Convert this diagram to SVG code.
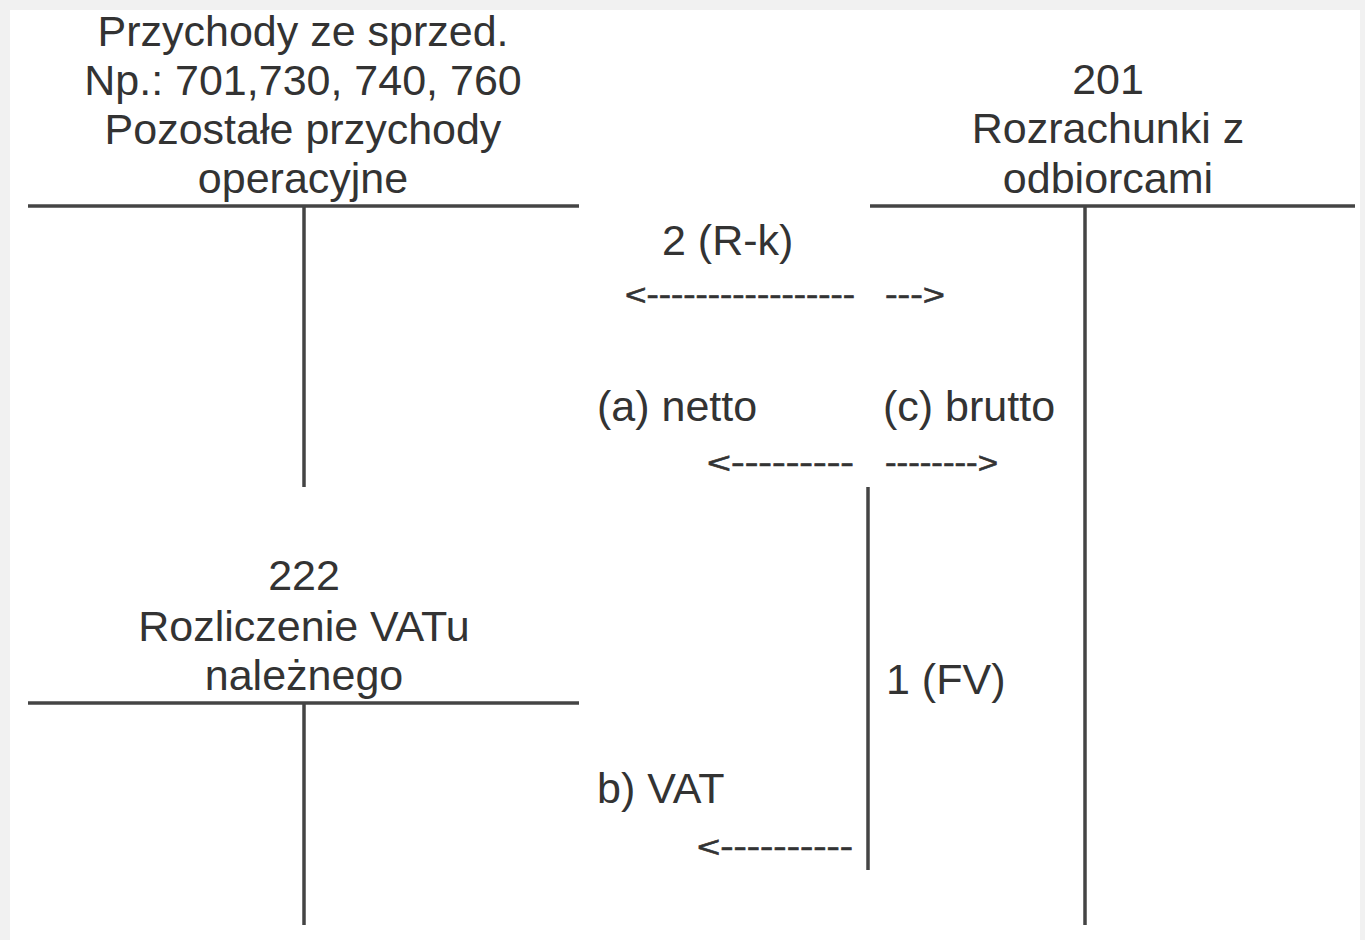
<svg xmlns="http://www.w3.org/2000/svg" width="1365" height="940" viewBox="0 0 1365 940">
<style>
.t{font-family:"Liberation Sans",Arial,sans-serif;font-size:43px;fill:#333;text-anchor:middle}
.l{font-family:"Liberation Sans",Arial,sans-serif;font-size:43px;fill:#333}
.a{font-family:"Liberation Sans",Arial,sans-serif;font-size:30px;fill:#333;stroke:#333;stroke-width:0.6}
.ln{stroke:#444;stroke-width:3.5;fill:none}
</style>
<rect width="1365" height="940" fill="#f1f1f1"/>
<rect x="10" y="10" width="1350" height="930" fill="#ffffff"/>
<g id="acc-przychody">
<text class="t" x="303" y="46">Przychody ze sprzed.</text>
<text class="t" x="303" y="95">Np.: 701,730, 740, 760</text>
<text class="t" x="303" y="144">Pozostałe przychody</text>
<text class="t" x="303" y="193">operacyjne</text>
<line class="ln" x1="28" y1="206" x2="579" y2="206"/>
<line class="ln" x1="304" y1="206" x2="304" y2="487"/>
</g>
<g id="acc-201">
<text class="t" x="1108" y="94">201</text>
<text class="t" x="1108" y="143">Rozrachunki  z</text>
<text class="t" x="1108" y="193">odbiorcami</text>
<line class="ln" x1="870" y1="206" x2="1355" y2="206"/>
<line class="ln" x1="1085" y1="206" x2="1085" y2="925"/>
</g>
<g id="acc-222">
<text class="t" x="304" y="590">222</text>
<text class="t" x="304" y="641">Rozliczenie VATu</text>
<text class="t" x="304" y="690">należnego</text>
<line class="ln" x1="28" y1="703" x2="579" y2="703"/>
<line class="ln" x1="304" y1="703" x2="304" y2="925"/>
</g>
<g id="connectors">
<line class="ln" x1="868" y1="487" x2="868" y2="870"/>
<text class="l" x="662" y="255">2 (R-k)</text>
<text class="a" x="625" y="305" textLength="230" lengthAdjust="spacingAndGlyphs">&lt;-----------------</text>
<text class="a" x="885" y="305" textLength="60" lengthAdjust="spacingAndGlyphs">---&gt;</text>
<text class="l" x="597" y="421">(a) netto</text>
<text class="l" x="883" y="421">(c) brutto</text>
<text class="a" x="707" y="473" textLength="147" lengthAdjust="spacingAndGlyphs">&lt;---------</text>
<text class="a" x="885" y="473" textLength="113" lengthAdjust="spacingAndGlyphs">--------&gt;</text>
<text class="l" x="886" y="694">1 (FV)</text>
<text class="l" x="597" y="803">b) VAT</text>
<text class="a" x="697" y="857" textLength="156" lengthAdjust="spacingAndGlyphs">&lt;----------</text>
</g>
</svg>
